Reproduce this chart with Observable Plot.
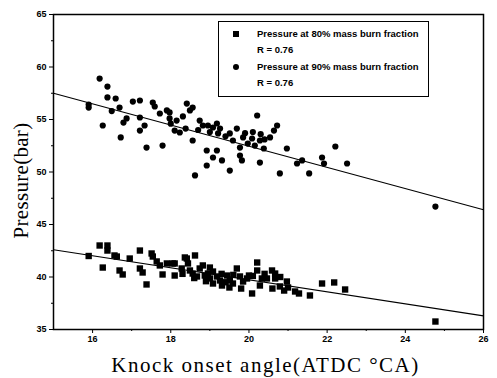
<!DOCTYPE html>
<html>
<head>
<meta charset="utf-8">
<script src="https://cdn.jsdelivr.net/npm/d3@7"></script>
<script src="https://cdn.jsdelivr.net/npm/@observablehq/plot@0.6"></script>
<style>
  html, body { margin: 0; padding: 0; background: #fff; }
  #wrap { position: relative; width: 497px; height: 378px; overflow: hidden; }
  #legend { position: absolute; left: 218px; top: 21px; width: 211px; height: 76px;
    border: 1.5px solid #000; box-sizing: border-box; background: #fff;
    font-family: "Liberation Sans", Arial, sans-serif; font-size: 9.5px; font-weight: bold; color: #000; }
  #legend .row { position: absolute; left: 38px; line-height: 10px; white-space: nowrap; }
  #legend .mk { position: absolute; background: #000; width: 6px; height: 6px; }
</style>
</head>
<body>
<div id="wrap"></div>
<script>
// ---- data ----
const xTicks = [16, 18, 20, 22, 24, 26];
const yTicks = [35, 40, 45, 50, 55, 60, 65];
const xMinor = [17, 19, 21, 23, 25];
const yMinor = [37.5, 42.5, 47.5, 52.5, 57.5, 62.5];

// Pressure at 90% mass burn fraction (circles)
const upperX = [16.18,16.38,16.38,16.59,15.90,15.90,16.26,16.69,16.72,16.87,
  16.79,17.03,17.21,17.21,17.21,17.33,17.38,17.54,17.59,17.72,
  17.90,17.79,17.97,18.10,18.23,18.41,18.49,18.56,18.38,18.62,
  18.56,18.74,18.82,18.92,18.95,19.08,19.18,19.26,19.21,19.08,
  19.31,19.51,19.51,19.59,19.69,19.77,19.85,19.97,20.21,20.72,
  20.64,20.54,20.08,20.15,20.28,20.38,20.28,20.79,20.97,21.23,
  21.54,21.36,21.87,21.92,22.21,22.51,24.77,
  18.31,18.15,18.92,19.18,19.77,19.82,17.97,16.49,18.0,19.4,19.0,18.7,19.9,20.1,20.4,20.3];
const upperY = [58.90,58.14,57.10,57.00,56.43,56.14,54.43,56.14,53.29,55.10,
  54.71,56.71,56.81,55.19,53.95,54.43,52.33,56.62,56.24,55.57,
  55.86,52.52,55.10,53.95,53.76,56.52,55.86,56.14,54.14,49.67,
  53.00,54.90,54.43,50.62,54.43,54.24,54.62,54.14,53.67,51.38,
  51.10,50.14,53.67,53.00,54.14,52.33,53.29,52.71,55.38,54.43,
  53.95,53.29,53.19,52.52,53.00,52.24,50.90,49.86,52.24,50.81,
  49.86,51.10,51.38,50.81,52.43,50.81,46.71,
  55.29,54.90,52.05,52.05,51.57,51.10,55.67,55.8,54.6,53.4,53.8,54.0,53.7,53.8,53.1,53.6];

// Pressure at 80% mass burn fraction (squares)
const lowerX = [16.18,16.38,16.38,15.90,16.56,16.62,16.26,16.69,16.77,16.95,
  17.21,17.38,17.21,17.28,17.51,17.54,17.64,17.79,17.72,17.90,
  18.10,18.10,18.28,18.41,18.62,18.49,18.56,18.67,18.74,18.82,
  18.87,18.95,19.00,19.08,19.18,19.26,19.08,19.31,19.44,19.51,
  19.59,19.69,19.77,19.85,19.95,20.00,20.08,20.21,20.21,20.33,
  20.28,20.46,20.59,20.67,20.67,20.79,20.90,20.97,21.18,21.28,
  21.56,21.87,22.18,22.46,24.77,
  18.05,18.36,18.44,19.00,18.90,19.40,18.60,19.30,19.60,20.10,18.30,19.80,19.50,20.40,20.60,20.80,21.00];
const lowerY = [43.00,43.00,42.52,42.00,42.05,41.95,40.90,40.62,40.24,41.76,
  42.52,39.29,40.81,40.43,42.24,41.95,41.48,40.24,41.10,41.29,
  41.29,40.14,40.81,41.76,42.05,40.62,40.33,40.05,40.81,41.10,
  40.14,40.33,39.86,40.52,40.05,39.67,39.38,39.19,40.14,39.67,
  39.38,40.81,40.05,39.57,39.86,40.14,38.43,41.38,40.62,39.86,
  39.19,39.86,40.62,40.33,39.86,39.10,38.71,39.57,38.62,38.43,
  38.24,39.38,39.48,38.81,35.76,
  41.29,41.86,41.29,40.90,39.60,39.50,39.90,40.30,40.20,40.10,40.30,38.90,39.00,40.30,38.90,40.00,39.00];

// fitted lines (end points)
const fitX = [15, 26];
const fitUpperY = [57.5, 46.4];
const fitLowerY = [42.6, 36.3];

const legendLines = ["Pressure at 80% mass burn fraction", "R = 0.76",
                     "Pressure at 90% mass burn fraction", "R = 0.76"];
const xTitle = "Knock onset angle(ATDC °CA)";
const yTitle = "Pressure(bar)";

// ---- tables ----
const upper = upperX.map((x, i) => ({x, y: upperY[i]}));
const lower = lowerX.map((x, i) => ({x, y: lowerY[i]}));
const fitU = fitX.map((x, i) => ({x, y: fitUpperY[i]}));
const fitL = fitX.map((x, i) => ({x, y: fitLowerY[i]}));

const tickFont = {fontSize: 9, fontWeight: "bold", fontFamily: "Liberation Sans, Arial, sans-serif"};
const serif = "Liberation Serif, Times New Roman, serif";

const chart = Plot.plot({
  width: 497, height: 378,
  marginLeft: 53, marginRight: 14, marginTop: 14, marginBottom: 49,
  style: {background: "#fff", color: "#000"},
  x: {domain: [15, 26]},
  y: {domain: [35, 65]},
  marks: [
    Plot.axisX({ticks: xTicks, tickSize: 4, tickPadding: 2, label: null, ...tickFont}),
    Plot.axisX({ticks: xMinor, tickSize: 2, text: null, label: null}),
    Plot.axisY({ticks: yTicks, tickSize: 4, tickPadding: 3, label: null, ...tickFont}),
    Plot.axisY({ticks: yMinor, tickSize: 2, text: null, label: null}),
    Plot.frame({stroke: "#000", strokeWidth: 1.5}),
    Plot.line(fitU, {x: "x", y: "y", stroke: "#000", strokeWidth: 1.1}),
    Plot.line(fitL, {x: "x", y: "y", stroke: "#000", strokeWidth: 1.1}),
    Plot.dot(upper, {x: "x", y: "y", r: 3.1, fill: "#000", stroke: "none"}),
    Plot.dot(lower, {x: "x", y: "y", r: 3.6, symbol: "square", fill: "#000", stroke: "none"}),
    Plot.text([yTitle], {frameAnchor: "left", textAnchor: "middle", lineAnchor: "middle",
      dx: -32, dy: 8.5, rotate: -90, fontSize: 21, fontFamily: serif, fill: "#000"}),
    Plot.text([xTitle], {frameAnchor: "bottom", textAnchor: "middle", lineAnchor: "middle",
      dx: -3, dy: 36, fontSize: 21, fontFamily: serif, fill: "#000"})
  ]
});

chart.querySelectorAll("text").forEach(t => {
  if (t.textContent === xTitle) t.style.letterSpacing = "1.5px";
  if (t.textContent === yTitle) t.style.letterSpacing = "0.3px";
});

const wrap = document.getElementById("wrap");
wrap.appendChild(chart);

// legend overlay
const lg = document.createElement("div");
lg.id = "legend";
const rowTops = [7, 23, 40, 56];
legendLines.forEach((t, i) => {
  const r = document.createElement("div");
  r.className = "row";
  r.style.top = rowTops[i] + "px";
  r.textContent = t;
  lg.appendChild(r);
});
const m1 = document.createElement("div");
m1.className = "mk"; m1.style.left = "14px"; m1.style.top = "9px";
const m2 = document.createElement("div");
m2.className = "mk"; m2.style.left = "14px"; m2.style.top = "42px"; m2.style.borderRadius = "50%";
lg.appendChild(m1); lg.appendChild(m2);
wrap.appendChild(lg);
</script>
</body>
</html>
